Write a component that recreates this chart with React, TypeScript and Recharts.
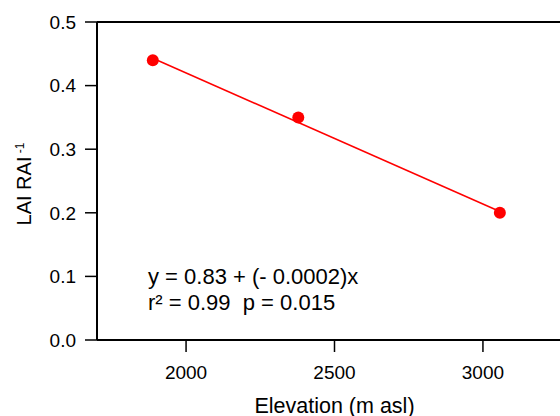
import React from "react";
import {
  ComposedChart,
  Scatter,
  Line,
  XAxis,
  YAxis,
  ReferenceLine,
  Label,
  Customized,
} from "recharts";

const elevation = [1888, 2378, 3057];
const laiRai = [0.44, 0.35, 0.2];
const fitElevation = [1888, 3057];
const fitLaiRai = [0.443, 0.202];
const xTicks = [2000, 2500, 3000];
const yTicks = [0, 0.1, 0.2, 0.3, 0.4, 0.5];

const points = elevation.map((x, i) => ({ x, y: laiRai[i] }));
const fit = fitElevation.map((x, i) => ({ x, y: fitLaiRai[i] }));

const FONT = "'Liberation Sans', Arial, Helvetica, sans-serif";

function Annotation() {
  return (
    <g fontFamily={FONT} fontSize={22} fill="#000">
      <text x={148} y={284} style={{ whiteSpace: "pre" }}>
        y = 0.83 + (- 0.0002)x
      </text>
      <text x={148} y={310} style={{ whiteSpace: "pre" }}>
        r² = 0.99  p = 0.015
      </text>
    </g>
  );
}

export default function App() {
  return (
    <div
      style={{
        position: "absolute",
        left: 0,
        top: 0,
        width: 560,
        height: 416,
        overflow: "hidden",
        background: "#fff",
      }}
    >
      <ComposedChart
        width={590}
        height={416}
        margin={{ top: 22, right: 18, left: 0, bottom: 0 }}
      >
        <XAxis
          type="number"
          dataKey="x"
          domain={[1700, 3300]}
          ticks={xTicks}
          height={76}
          allowDataOverflow
          axisLine={{ stroke: "#000", strokeWidth: 2 }}
          tickLine={{ stroke: "#000", strokeWidth: 1.5 }}
          tickSize={12}
          tickMargin={14}
          tick={{ fill: "#000", fontSize: 19, fontFamily: FONT }}
        >
          <Label
            content={({ viewBox }: any) => (
              <text
                x={viewBox.x + viewBox.width / 2}
                y={viewBox.y + 73}
                textAnchor="middle"
                fontSize={21.5}
                fontFamily={FONT}
                fill="#000"
              >
                Elevation (m asl)
              </text>
            )}
          />
        </XAxis>
        <YAxis
          type="number"
          dataKey="y"
          domain={[0, 0.5]}
          ticks={yTicks}
          width={97}
          allowDataOverflow
          tickFormatter={(v: number) => v.toFixed(1)}
          axisLine={{ stroke: "#000", strokeWidth: 2 }}
          tickLine={{ stroke: "#000", strokeWidth: 1.5 }}
          tickSize={12}
          tickMargin={9}
          tick={{ fill: "#000", fontSize: 19, fontFamily: FONT }}
        >
          <Label
            content={({ viewBox }: any) => {
              const cx = 31;
              const cy = viewBox.y + viewBox.height / 2 + 3;
              return (
                <text
                  x={cx}
                  y={cy}
                  transform={`rotate(-90, ${cx}, ${cy})`}
                  textAnchor="middle"
                  fontSize={20}
                  fontFamily={FONT}
                  fill="#000"
                >
                  LAI RAI
                  <tspan fontSize={12} dy={-7}>
                    {" -1"}
                  </tspan>
                </text>
              );
            }}
          />
        </YAxis>
        <ReferenceLine y={0.5} stroke="#000" strokeWidth={2} ifOverflow="visible" />
        <Line
          data={fit}
          dataKey="y"
          type="linear"
          stroke="#ff0000"
          strokeWidth={1.5}
          dot={false}
          activeDot={false}
          isAnimationActive={false}
        />
        <Scatter
          data={points}
          dataKey="y"
          isAnimationActive={false}
          shape={(p: any) => <circle cx={p.cx} cy={p.cy} r={6} fill="#ff0000" />}
        />
        <Customized component={Annotation} />
      </ComposedChart>
    </div>
  );
}
